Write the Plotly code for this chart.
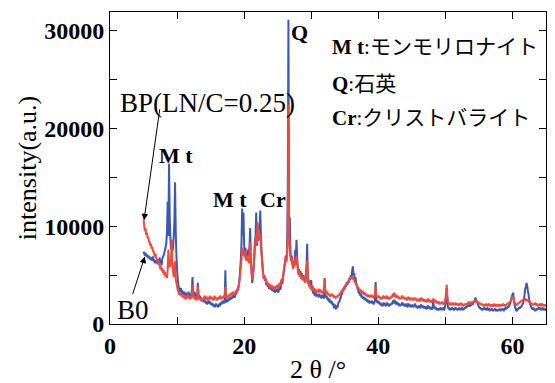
import numpy as np
import plotly.graph_objects as go

# 2θ grid of the scans (degrees, 0.1° step from 5° to 65°)
two_theta = np.round(np.arange(5.0, 65.0001, 0.1), 1)

# B0 intensity (a.u.), one row per degree of 2θ
b0 = [
    7400, 7200, 7000, 7300, 6900, 7100, 6800, 7000, 6700, 6900,
    6600, 6800, 6500, 6700, 6900, 6400, 6600, 6200, 6500, 6300,
    6400, 6100, 6600, 6300, 6800, 6200, 6500, 6000, 6700, 6900,
    7000, 7300, 7600, 7900, 8300, 9500, 12500, 9000, 16400, 11000,
    8800, 7600, 8200, 7400, 7800, 9000, 10500, 14500, 9500, 7000,
    5500, 4600, 4000, 3600, 3400, 3300, 3700, 3100, 3400, 3200,
    3000, 3300, 2900, 3200, 2800, 3100, 2900, 3300, 3000, 2800,
    3100, 2900, 3400, 4800, 3200, 2900, 3300, 3000, 2700, 3000,
    2800, 4200, 3000, 2600, 2900, 2500, 2700, 2400, 2600, 2300,
    2500, 2200, 2400, 2100, 2300, 2000, 2200, 2400, 2100, 2300,
    2000, 2200, 1900, 2100, 1800, 2000, 1700, 1900, 2100, 1800,
    2000, 1700, 1900, 2100, 1800, 2200, 2000, 2300, 2100, 2400,
    2100, 2300, 5500, 2400, 2200, 2500, 2300, 2600, 2400, 2700,
    2500, 2800, 2600, 3000, 2700, 2900, 2700, 3100, 3000, 3300,
    3600, 3400, 4000, 4500, 5600, 6500, 8200, 11800, 9000, 11400,
    8000, 7000, 7800, 6500, 7200, 6800, 7600, 7000, 8000, 9800,
    6500, 5500, 4200, 4800, 5500, 7000, 8500, 9000, 11400, 8000,
    9000, 8500, 10000, 9500, 11600, 9000, 7500, 6500, 5500, 4800,
    5000, 4400, 4700, 4000, 4300, 3800, 4100, 3600, 3900, 3700,
    3500, 3800, 3400, 3700, 3300, 3600, 3200, 3500, 3300, 3600,
    3400, 3200, 3600, 3800, 3500, 4000, 4300, 4100, 4700, 5200,
    5800, 6300, 7000, 6500, 7500, 13500, 31100, 9000, 10900, 7500,
    6500, 7000, 6200, 5800, 6400, 6000, 7600, 6500, 8600, 6800,
    5800, 5200, 5600, 5000, 5400, 4800, 5200, 4600, 5000, 4400,
    4800, 4300, 5200, 6000, 8200, 4200, 4600, 3900, 4300, 3700,
    4500, 3400, 3900, 3100, 3500, 2900, 3300, 2800, 3100, 2900,
    3000, 2700, 3100, 2800, 2900, 2600, 3000, 2700, 2800, 2600,
    4700, 3000, 2700, 2900, 2500, 2700, 2300, 2600, 2200, 2400,
    2100, 2300, 1900, 2100, 1600, 2000, 1700, 1500, 1900, 1650,
    2000, 2300, 2200, 2700, 2600, 3100, 3000, 3500, 3400, 3800,
    3600, 4000, 3800, 4300, 4000, 4400, 4200, 4700, 4500, 5000,
    4700, 5400, 5900, 5000, 5200, 4600, 4800, 4200, 4000, 3600,
    3500, 3100, 3300, 2900, 3100, 2700, 2900, 2600, 2800, 2500,
    2700, 2400, 2600, 2300, 2500, 2200, 2400, 2100, 2300, 2200,
    2400, 2100, 2300, 2000, 2200, 2400, 4300, 2500, 2200, 2400,
    2100, 2300, 2000, 2200, 1900, 2100, 1800, 2000, 2200, 1900,
    2100, 1800, 2000, 2200, 1900, 2100, 1800, 2000, 1900, 2100,
    2000, 2200, 2400, 2100, 2500, 2200, 2000, 2300, 2000, 2200,
    1900, 2100, 1800, 2000, 1900, 2100, 2200, 1900, 2100, 1800,
    2000, 1800, 2100, 1700, 1900, 2100, 1800, 2000, 1700, 1900,
    1800, 2000, 1700, 1900, 1800, 2100, 1700, 1900, 1600, 1800,
    1700, 1900, 1600, 1800, 2000, 1700, 1900, 1600, 1800, 1700,
    1600, 1800, 1500, 1700, 1900, 1600, 1800, 1500, 1700, 1600,
    1500, 1700, 2500, 1600, 1800, 1500, 1700, 1400, 1600, 1500,
    1400, 1600, 1500, 1700, 1400, 1600, 1500, 1700, 1400, 1600,
    2000, 2800, 3700, 2200, 1700, 1500, 1700, 1400, 1600, 1500,
    1700, 1500, 1600, 1400, 1600, 1700, 1500, 1600, 1400, 1600,
    1500, 1700, 1400, 1600, 1500, 1700, 1400, 1600, 1500, 1700,
    1600, 1800, 1700, 1900, 1800, 2000, 1900, 1800, 2000, 1900,
    2100, 2000, 2300, 2200, 2500, 2700, 2400, 2300, 2100, 1900,
    1800, 1600, 1700, 1500, 1600, 1400, 1600, 1500, 1700, 1500,
    1600, 1400, 1500, 1700, 1400, 1600, 1300, 1500, 1400, 1600,
    1500, 1300, 1500, 1400, 1600, 1300, 1500, 1400, 1300, 1500,
    1400, 1600, 1300, 1500, 1400, 1600, 1500, 1300, 1500, 1600,
    1500, 1700, 1600, 1800, 1700, 1900, 2000, 2200, 2500, 2800,
    3000, 3200, 2600, 2000, 1700, 1500, 1300, 1400, 1600, 1500,
    1700, 1600, 1800, 1700, 1900, 2000, 2200, 2500, 3000, 3600,
    3800, 4200, 3900, 3400, 3000, 2500, 2100, 1900, 1700, 1600,
    1500, 1700, 1400, 1600, 1300, 1500, 1400, 1600, 1500, 1700,
    1500, 1700, 1400, 1600, 1500, 1700, 1400, 1600, 1500, 1400,
    1600,
]

# BP (LN/C=0.25) intensity (a.u.), one row per degree of 2θ
bp = [
    10700, 10100, 9500, 9800, 9100, 9300, 8800, 8900, 8400, 8500,
    8000, 8200, 7700, 7900, 7400, 7500, 7100, 6900, 7200, 6700,
    6600, 6300, 6500, 6000, 6200, 5600, 5900, 5400, 5700, 5200,
    5500, 5000, 5300, 4800, 5100, 4700, 5600, 7600, 6200, 5800,
    6000, 6600, 8600, 6200, 5400, 4800, 5800, 6400, 4500, 4200,
    3800, 3500, 3300, 3000, 3200, 2900, 3100, 2800, 3000, 2700,
    2900, 2600, 2800, 2500, 2900, 2700, 3000, 2600, 2800, 2500,
    2800, 2600, 3000, 4000, 2900, 2600, 2800, 2500, 2700, 2400,
    2600, 3800, 2700, 2500, 2700, 2400, 2600, 2300, 2500, 2600,
    2600, 2900, 2700, 2500, 2800, 2600, 2400, 2700, 2500, 2900,
    2600, 2800, 2500, 2700, 2400, 2600, 2900, 2500, 2700, 2400,
    2700, 2500, 2800, 2600, 2900, 2700, 2500, 2800, 2600, 2900,
    2700, 3000, 3800, 2800, 2600, 2900, 2700, 3000, 2800, 3100,
    2900, 3200, 3000, 3300, 2900, 3100, 3000, 3400, 3200, 3500,
    3400, 3700, 4000, 4400, 5000, 5800, 6500, 7800, 7000, 7600,
    7200, 6800, 7400, 6600, 7000, 6400, 6800, 6200, 7200, 8400,
    6200, 5200, 4500, 5000, 5600, 6500, 7600, 8400, 9200, 8200,
    10400, 9000, 9600, 8600, 9200, 7800, 7000, 6000, 5200, 4600,
    5000, 4500, 4700, 4200, 4400, 4000, 4200, 3800, 4100, 3900,
    3700, 4000, 3600, 3900, 3500, 3800, 3600, 3900, 3700, 4000,
    3800, 3600, 4000, 4200, 3900, 4400, 4600, 4300, 5000, 5500,
    6000, 6400, 6800, 6300, 7200, 9000, 22400, 9000, 7500, 6800,
    6400, 6800, 6000, 5600, 6200, 5800, 6600, 6000, 7000, 6200,
    5600, 5000, 5400, 4800, 5200, 4600, 5000, 4500, 4800, 4400,
    4700, 4200, 4900, 5600, 6500, 4100, 4400, 3800, 4200, 3600,
    3900, 3500, 3800, 3400, 3700, 3300, 3600, 3200, 3500, 3300,
    3500, 3200, 3600, 3300, 3500, 3200, 3400, 3100, 3300, 3200,
    4600, 3300, 3100, 3400, 3000, 3200, 2900, 3100, 2800, 3000,
    2900, 3100, 2800, 3000, 2700, 2900, 2600, 2800, 2700, 2900,
    2800, 3000, 2900, 3200, 3100, 3400, 3300, 3600, 3500, 3800,
    3700, 4000, 3900, 4200, 4100, 4400, 4300, 4700, 4500, 4800,
    4600, 4900, 4700, 4500, 4600, 4200, 4300, 4000, 3900, 3700,
    3800, 3500, 3600, 3300, 3500, 3200, 3400, 3100, 3300, 3000,
    3200, 2900, 3100, 2800, 3000, 2800, 3000, 2700, 2900, 2800,
    3000, 2700, 2900, 2600, 2800, 3000, 3800, 3000, 2800, 2900,
    2700, 2900, 2600, 2800, 2500, 2700, 2600, 2800, 2900, 2600,
    2800, 2600, 2700, 2900, 2600, 2800, 2500, 2700, 2600, 2800,
    2700, 2900, 3100, 2800, 3200, 2900, 2700, 3000, 2700, 2900,
    2600, 2800, 2500, 2700, 2600, 2800, 2900, 2600, 2800, 2500,
    2700, 2500, 2700, 2400, 2600, 2800, 2500, 2700, 2400, 2600,
    2500, 2700, 2400, 2600, 2500, 2700, 2400, 2600, 2300, 2500,
    2400, 2600, 2300, 2500, 2700, 2400, 2600, 2300, 2500, 2400,
    2300, 2500, 2200, 2400, 2600, 2300, 2500, 2200, 2400, 2300,
    2200, 2400, 2600, 2300, 2500, 2200, 2400, 2100, 2300, 2200,
    2100, 2300, 2000, 2200, 2100, 2300, 2000, 2200, 2100, 2200,
    2600, 3000, 4000, 2800, 2300, 2100, 2000, 2200, 1900, 2100,
    2000, 2200, 1900, 2100, 2000, 2200, 1900, 2100, 2000, 1900,
    2100, 1900, 2000, 2200, 1900, 2100, 1800, 2000, 1900, 2100,
    1900, 2100, 2000, 2200, 2000, 2300, 2100, 2200, 2000, 2300,
    2100, 2300, 2200, 2400, 2200, 2500, 2300, 2400, 2200, 2300,
    2100, 2200, 2000, 2100, 1900, 2100, 1900, 2000, 1800, 2000,
    1900, 2100, 1800, 2000, 1900, 2100, 1800, 2000, 1900, 1800,
    2000, 1800, 1900, 2100, 1800, 2000, 1900, 1800, 2000, 1900,
    1800, 2000, 1900, 1800, 2000, 1900, 2100, 1900, 2000, 1800,
    2000, 1900, 2100, 2000, 2200, 2100, 2300, 2200, 2400, 2600,
    2800, 2700, 2500, 2300, 2100, 2000, 1900, 2100, 2000, 2200,
    2100, 2300, 2200, 2400, 2300, 2500, 2400, 2600, 2500, 2400,
    2600, 2400, 2500, 2300, 2400, 2200, 2300, 2100, 2200, 2000,
    2100, 1900, 2100, 2000, 2200, 1900, 2100, 2000, 1800, 2000,
    1900, 2100, 1800, 2000, 2100, 1900, 2000, 1800, 2000, 1900,
    2000,
]

# Axis ticks
x_ticks = [0, 10, 20, 30, 40, 50, 60]
x_tick_text = ["0", "", "20", "", "40", "", "60"]
y_ticks = [0, 5000, 10000, 15000, 20000, 25000, 30000]
y_tick_text = ["0", "", "10000", "", "20000", "", "30000"]

# Peak labels: (text, 2θ, intensity)
peak_labels = [
    ("M t", 9.8, 17200),
    ("M t", 17.9, 12700),
    ("Cr", 24.3, 12700),
    ("Q", 28.3, 29800),
]

# Phase key lines
phase_key = [
    ("<b>M t</b>:モンモリロナイト", 28300),
    ("<b>Q</b>:石英", 24500),
    ("<b>Cr</b>:クリストバライト", 21100),
]

SERIF = "Liberation Serif, Times New Roman, serif"
MIX = "Liberation Serif, Noto Sans CJK JP, serif"

fig = go.Figure()
fig.add_trace(go.Scatter(x=two_theta, y=b0, mode="lines",
                         line=dict(color="#3a58b4", width=2.0, simplify=False), name="B0"))
fig.add_trace(go.Scatter(x=two_theta, y=bp, mode="lines",
                         line=dict(color="#f4483a", width=2.0, simplify=False), name="BP"))

annotations = []
for text, xv, yv in peak_labels:
    annotations.append(dict(x=xv, y=yv, xref="x", yref="y", text=f"<b>{text}</b>",
                            showarrow=False, font=dict(family=SERIF, size=22, color="black")))

for text, yv in phase_key:
    annotations.append(dict(x=32.75, y=yv, xref="x", yref="y", text=text,
                            xanchor="left", yanchor="middle",
                            showarrow=False, font=dict(family=MIX, size=21, color="black")))

# Sample labels with arrows pointing at the curve starts
annotations.append(dict(x=14.6, y=22600, xref="x", yref="y", text="BP(LN/C=0.25)",
                        showarrow=False, font=dict(family=SERIF, size=27, color="black")))
annotations.append(dict(x=5.07, y=10600, xref="x", yref="y", ax=7.45, ay=22100,
                        axref="x", ayref="y", text="", showarrow=True,
                        arrowhead=2, arrowsize=1.3, arrowwidth=1, arrowcolor="black"))
annotations.append(dict(x=3.45, y=1400, xref="x", yref="y", text="B0",
                        showarrow=False, font=dict(family=SERIF, size=27, color="black")))
annotations.append(dict(x=5.2, y=6900, xref="x", yref="y", ax=3.3, ay=2900,
                        axref="x", ayref="y", text="", showarrow=True,
                        arrowhead=2, arrowsize=1.3, arrowwidth=1, arrowcolor="black"))

# Axis titles
annotations.append(dict(x=-0.19, y=0.5, xref="paper", yref="paper", text="intensity(a.u.)",
                        xanchor="center", yanchor="middle", textangle=-90, showarrow=False,
                        font=dict(family=SERIF, size=26, color="black")))
annotations.append(dict(x=0.477, y=-0.147, xref="paper", yref="paper", text="2 θ /°",
                        xanchor="center", yanchor="middle", showarrow=False,
                        font=dict(family=SERIF, size=26, color="black")))

fig.update_layout(
    width=555, height=383,
    margin=dict(l=110, r=9, t=12, b=59),
    paper_bgcolor="white", plot_bgcolor="white",
    showlegend=False,
    annotations=annotations,
)
fig.update_xaxes(range=[0, 65], tickvals=x_ticks, ticktext=x_tick_text,
                 ticks="inside", ticklen=7, tickwidth=1, tickcolor="black",
                 showline=True, linecolor="black", linewidth=1, mirror="ticks",
                 showgrid=False, zeroline=False,
                 tickfont=dict(family=SERIF, size=24, color="black", weight="bold"))
fig.update_yaxes(range=[0, 31900], tickvals=y_ticks, ticktext=y_tick_text,
                 ticks="inside", ticklen=7, tickwidth=1, tickcolor="black",
                 showline=True, linecolor="black", linewidth=1, mirror="ticks",
                 showgrid=False, zeroline=False,
                 tickfont=dict(family=SERIF, size=24, color="black", weight="bold"))

fig.write_html("out.html")
